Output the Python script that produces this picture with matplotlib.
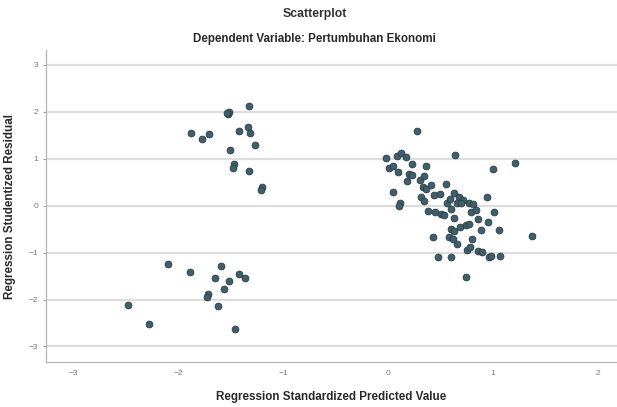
import matplotlib
matplotlib.use("Agg")
import matplotlib.pyplot as plt

plt.rcParams['font.family'] = ['Liberation Sans', 'DejaVu Sans']

# standardized predicted value vs studentized residual
pred_left = [-1.88, -1.77, -1.71, -1.53, -1.52, -1.54, -1.33, -1.42, -1.34, -1.32,
             -1.27, -1.51, -1.47, -1.48, -1.33, -1.20, -1.21,
             -2.10, -1.89, -1.59, -1.65, -1.52, -1.42, -1.36, -1.56, -1.72, -1.73,
             -1.62, -1.46, -2.48, -2.28]
resid_left = [1.54, 1.42, 1.52, 1.95, 2.00, 1.97, 2.12, 1.59, 1.67, 1.55,
              1.28, 1.18, 0.89, 0.81, 0.74, 0.40, 0.33,
              -1.25, -1.42, -1.28, -1.55, -1.61, -1.45, -1.54, -1.78, -1.89, -1.94,
              -2.13, -2.63, -2.11, -2.52]

pred_right = [0.27, 0.64, 1.21, 1.00, -0.02, 0.08, 0.12, 0.17, 0.23, 0.36,
              0.01, 0.05, 0.09, 0.20, 0.23, 0.18, 0.30, 0.34, 0.33, 0.36,
              0.41, 0.55, 0.05, 0.11, 0.10, 0.31, 0.34, 0.44, 0.49, 0.56,
              0.63, 0.67, 0.66, 0.71, 0.60, 0.63, 0.38, 0.45, 0.50, 0.53,
              0.77, 0.81, 0.79, 0.84, 0.86, 0.94, 1.01, 0.95, 0.88, 1.06,
              0.60, 0.63, 0.68, 0.74, 0.77, 0.58, 0.62, 0.66, 0.80, 0.43,
              1.37, 0.75, 0.78, 0.86, 0.89, 0.96, 0.98, 1.07, 0.47, 0.60,
              0.74, 0.69, 0.59]
resid_right = [1.59, 1.07, 0.90, 0.77, 1.01, 1.06, 1.12, 1.03, 0.89, 0.84,
               0.79, 0.84, 0.72, 0.67, 0.65, 0.52, 0.55, 0.62, 0.40, 0.36,
               0.43, 0.45, 0.29, 0.06, 0.00, 0.19, 0.10, 0.22, 0.25, 0.05,
               0.26, 0.18, 0.06, 0.11, -0.07, -0.26, -0.11, -0.13, -0.18, -0.20,
               0.06, 0.04, -0.14, -0.09, -0.28, 0.19, -0.13, -0.36, -0.52, -0.52,
               -0.50, -0.54, -0.46, -0.42, -0.40, -0.66, -0.72, -0.81, -0.71, -0.67,
               -0.64, -0.95, -0.88, -0.96, -0.98, -1.09, -1.07, -1.08, -1.09, -1.10,
               -1.53, 0.05, 0.15]

ticks_x = [-3, -2, -1, 0, 1, 2]
ticks_y = [-3, -2, -1, 0, 1, 2, 3]

fig = plt.figure(figsize=(6.17, 4.07), dpi=100)
ax = fig.add_axes([0.0746, 0.1106, 0.9254, 0.7664])

ax.scatter(pred_left + pred_right, resid_left + resid_right, s=24,
           color='#3e5f6c', edgecolors='#2c3b42', linewidths=0.6, zorder=3)

ax.set_xlim(-3.26, 2.18)
ax.set_ylim(-3.33, 3.31)
ax.set_xticks(ticks_x)
ax.set_yticks(ticks_y)
ax.tick_params(axis='both', labelsize=6, colors='#888888', length=2, width=0.6)
ax.tick_params(axis='x', length=0, pad=6)
for lbl in ax.get_xticklabels() + ax.get_yticklabels():
    lbl.set_color('#777777')

ax.grid(axis='y', color='#dddddd', linewidth=1.6, zorder=0)
for s in ['top', 'right']:
    ax.spines[s].set_visible(False)
for s in ['left', 'bottom']:
    ax.spines[s].set_color('#bbbbbb')
    ax.spines[s].set_linewidth(1.0)

ax.set_xlabel("Regression Standardized Predicted Value", fontsize=8.4,
              fontweight='bold', color='#2a2a2a', labelpad=10)
ax.set_ylabel("Regression Studentized Residual", fontsize=8.4,
              fontweight='bold', color='#2a2a2a', labelpad=9)

fig.text(0.510, 0.966, "Scatterplot", ha='center', va='center',
         fontsize=8.8, fontweight='bold', color='#333333')
fig.text(0.509, 0.903, "Dependent Variable: Pertumbuhan Ekonomi", ha='center',
         va='center', fontsize=8.4, fontweight='bold', color='#2a2a2a')

fig.savefig("out.png", dpi=100)
